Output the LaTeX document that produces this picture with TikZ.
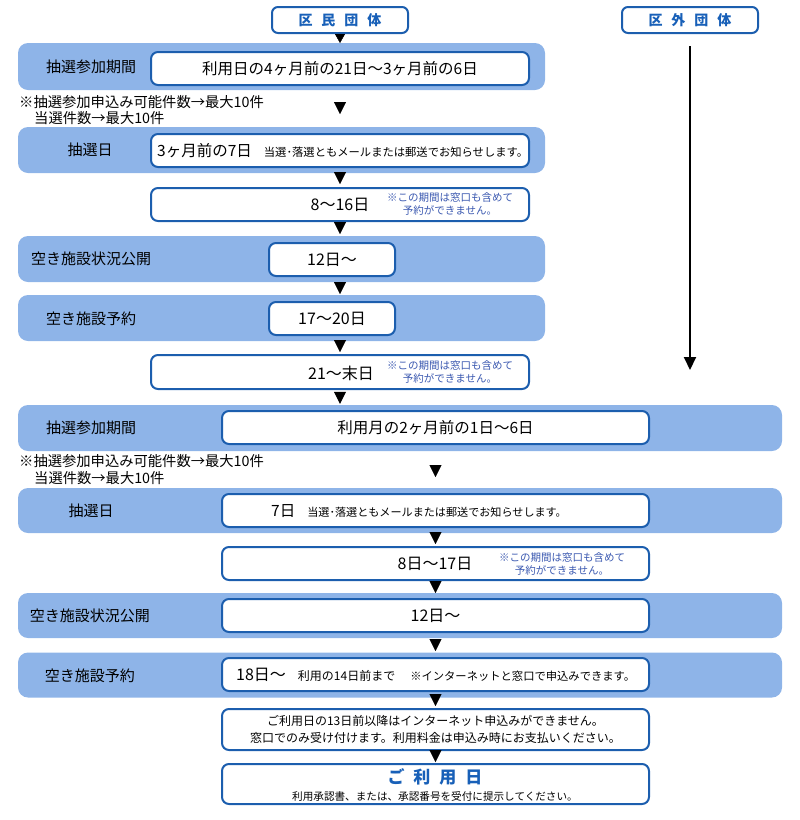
\documentclass[tikz,border=0pt]{standalone}
\usepackage{fontspec}
\setmainfont{Noto Sans CJK JP}
\usetikzlibrary{arrows.meta,calc}
\definecolor{bandc}{RGB}{142,180,232}
\definecolor{boxc}{RGB}{28,94,174}
\definecolor{notec}{RGB}{58,88,176}
\definecolor{titlec}{RGB}{24,96,184}
\newcommand{\jfs}[2]{\fontsize{#1}{#2}\selectfont}
\begin{document}
\begin{tikzpicture}[x=1pt,y=-1pt,
  band/.style={fill=bandc, draw=none, rounded corners=10pt, inner sep=0pt},
  wbox/.style={draw=boxc, line width=2pt, fill=white, rounded corners=7pt, inner sep=0pt, font=\jfs{15.5}{16}},
  headbox/.style={draw=boxc, line width=2pt, fill=white, rounded corners=6pt, inner sep=0pt,
     minimum width=136pt, minimum height=26pt, text=titlec, font=\bfseries\jfs{14}{14}},
  lab/.style={inner sep=0pt, font=\jfs{15}{15}},
  txt/.style={inner sep=0pt},
  note/.style={inner sep=0pt, font=\jfs{14.3}{14.3}, anchor=west},
  bnote/.style={inner sep=0pt, text=notec, align=center, font=\jfs{10.5}{13}},
  tri/.style={-{Triangle[length=12pt,width=12pt]}, line width=0.4pt}
]
\useasboundingbox (0,0) rectangle (800,820);

% headers
\node[headbox] (kumin) at (340,20) {区\hspace{9pt}民\hspace{9pt}団\hspace{9pt}体};
\node[headbox] (kugai) at (690,20) {区\hspace{9pt}外\hspace{9pt}団\hspace{9pt}体};
\coordinate (kend) at (690,370);

% upper bands
\node[band, minimum width=527pt, minimum height=47pt] (band1) at (281.5,66.5) {};
\node[band, minimum width=527pt, minimum height=46pt] (band2) at (281.5,150) {};
\node[band, minimum width=527pt, minimum height=46pt] (band3) at (281.5,259) {};
\node[band, minimum width=527pt, minimum height=46pt] (band4) at (281.5,318) {};

\node[lab] (l1) at (91,67) {抽選参加期間};
\node[lab] (l2) at (90,150) {抽選日};
\node[lab] (l3) at (91,259) {空き施設状況公開};
\node[lab] (l4) at (91,319) {空き施設予約};

\node[wbox, minimum width=378pt, minimum height=33pt] (box1) at (340,68.5) {利用日の4ヶ月前の21日～3ヶ月前の6日};
\node[wbox, minimum width=378pt, minimum height=33pt] (box2) at (340,150.5) {};
\node[txt, anchor=west] (t2) at (157,151) {{\jfs{15.5}{16}3ヶ月前の7日}\hspace{12pt}{\jfs{11.3}{12}当選･落選ともメールまたは郵送でお知らせします。}};
\node[wbox, minimum width=378pt, minimum height=33pt] (box3) at (340,204.5) {};
\node[txt, font=\jfs{16}{16}] (t3) at (340,205) {8～16日};
\node[bnote] (n3) at (450,204.5) {※この期間は窓口も含めて\\予約ができません。};
\node[wbox, minimum width=126pt, minimum height=33pt, font=\jfs{16}{16}] (box12) at (332,259.5) {12日～};
\node[wbox, minimum width=126pt, minimum height=33pt, font=\jfs{16}{16}] (box17) at (332,318.5) {17～20日};
\node[wbox, minimum width=378pt, minimum height=34pt] (box21) at (340,372) {};
\node[txt, font=\jfs{16}{16}] (t21) at (341,373) {21～末日};
\node[bnote] (n21) at (450,372.5) {※この期間は窓口も含めて\\予約ができません。};

\node[note] (nt1) at (19,102) {※抽選参加申込み可能件数→最大10件};
\node[note] (nt2) at (34,118) {当選件数→最大10件};

% lower bands
\node[band, minimum width=764pt, minimum height=46pt] (band5) at (400,428) {};
\node[band, minimum width=764pt, minimum height=45pt] (band6) at (400,510.5) {};
\node[band, minimum width=764pt, minimum height=45pt] (band7) at (400,615.5) {};
\node[band, minimum width=764pt, minimum height=45pt] (band8) at (400,675) {};

\node[lab] (l5) at (91,428) {抽選参加期間};
\node[lab] (l6) at (91,511) {抽選日};
\node[lab] (l7) at (90,616) {空き施設状況公開};
\node[lab] (l8) at (90,676) {空き施設予約};

\node[note] (nt3) at (19,461) {※抽選参加申込み可能件数→最大10件};
\node[note] (nt4) at (34,478) {当選件数→最大10件};

\node[wbox, minimum width=427pt, minimum height=33pt] (box5) at (435.5,427.5) {利用月の2ヶ月前の1日～6日};
\node[wbox, minimum width=427pt, minimum height=33pt] (box6) at (435.5,510.5) {};
\node[txt, anchor=west] (t6) at (271,511) {{\jfs{15.5}{16}7日}\hspace{12pt}{\jfs{11.1}{12}当選･落選ともメールまたは郵送でお知らせします。}};
\node[wbox, minimum width=427pt, minimum height=33pt] (box817) at (435.5,563.5) {};
\node[txt, font=\jfs{16}{16}] (t817) at (435,564) {8日～17日};
\node[bnote] (n817) at (562,564) {※この期間は窓口も含めて\\予約ができません。};
\node[wbox, minimum width=427pt, minimum height=33pt, font=\jfs{16}{16}] (box7) at (435.5,615.5) {12日～};
\node[wbox, minimum width=427pt, minimum height=33pt] (box8) at (435.5,674.5) {};
\node[txt, anchor=west] (t8) at (236,675) {{\jfs{16}{16}18日～}\hspace{12pt}{\jfs{12}{12}利用の14日前まで}\hspace{15pt}{\jfs{11.3}{12}※インターネットと窓口で申込みできます。}};
\node[wbox, minimum width=427pt, minimum height=41pt, align=center, font=\jfs{12}{17}] (box9) at (435.5,729.5) {ご利用日の13日前以降はインターネット申込みができません。\\窓口でのみ受け付けます。利用料金は申込み時にお支払いください。};
\node[wbox, minimum width=427pt, minimum height=40pt] (box10) at (435.5,784) {};
\node[txt, text=titlec, font=\bfseries\jfs{17}{17}] (t10a) at (435,777) {ご\hspace{9pt}利\hspace{9pt}用\hspace{9pt}日};
\node[txt, font=\jfs{10.6}{11}] (t10b) at (435,796) {利用承認書、または、承認番号を受付に提示してください。};

% connectors
\draw[-{Triangle[length=9pt,width=10pt]}, line width=0.4pt, shorten >=8pt] (kumin.south) -- (box1.north);
\draw[tri, shorten <=18pt, shorten >=19pt] (box1.south) -- (box2.north);
\draw[tri, shorten <=6pt, shorten >=3pt] (box2.south) -- (box3.north);
\draw[tri, shorten <=2pt, shorten >=8pt] (box3.south) -- (box3.south |- box12.north);
\draw[tri, shorten <=7pt, shorten >=7pt] (box12.south -| box3.south) -- (box17.north -| box3.south);
\draw[tri, shorten <=6pt, shorten >=2pt] (box17.south -| box21.north) -- (box21.north);
\draw[tri, shorten <=3pt, shorten >=1pt] (box21.south) -- (box21.south |- band5.north);

\draw[tri, shorten <=22pt, shorten >=16pt] (box5.south) -- (box6.north);
\draw[tri, shorten <=6pt, shorten >=2pt] (box6.south) -- (box817.north);
\draw[tri, shorten <=2pt, shorten >=5pt] (box817.south) -- (box7.north);
\draw[tri, shorten <=8pt, shorten >=6pt] (box7.south) -- (box8.north);
\draw[tri, shorten <=4pt, shorten >=2pt] (box8.south) -- (box9.north);
\draw[tri, shorten <=1pt, shorten >=1pt] (box9.south) -- (box10.north);

\draw[line width=2pt, -{Triangle[length=13pt,width=12pt]}, shorten <=12pt] (kugai.south) -- (kend);
\end{tikzpicture}
\end{document}
